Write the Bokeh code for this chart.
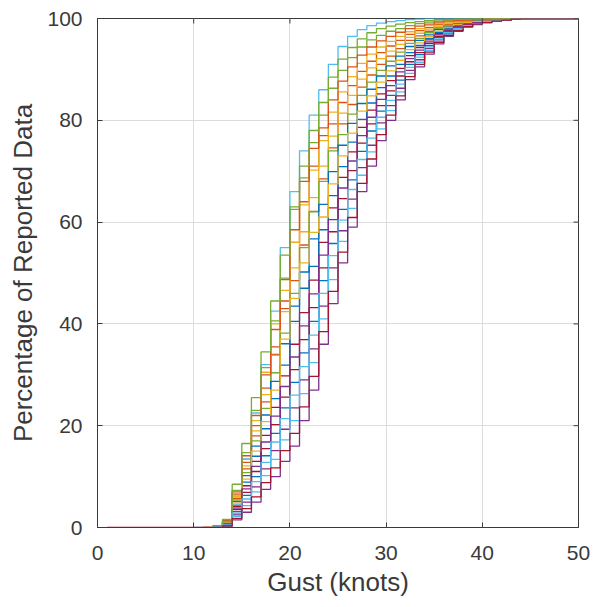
import math
from bokeh.plotting import figure
from bokeh.models import Range1d, FixedTicker
from bokeh.embed import file_html
from bokeh.resources import INLINE

# Gust values (knots) at which the cumulative percentages are reported
gust_knots = [12, 13, 14, 15, 16, 17, 18, 19, 20, 21, 22, 23, 24, 25, 26, 27, 28,
              29, 30, 31, 32, 33, 34, 35, 36, 37, 38, 39, 40, 41, 42, 43, 44]

# cumulative percentage of reported data, one list per station (plot order)
s01 = [0.1, 0.5, 3.1, 6.3, 10.0, 14.1, 18.5, 23.5, 28.5, 34.3, 40.5, 48.5, 55.8, 62.5, 68.3, 73.9, 77.9, 81.8, 84.9, 87.9, 91.0, 92.9, 94.7, 96.3, 97.4, 98.1, 98.7, 99.1, 99.4, 99.6, 99.8, 99.9, 100]
s02 = [0.2, 1.2, 6.4, 12.8, 20.0, 27.4, 35.5, 44.5, 56.0, 64.0, 71.0, 77.0, 79.3, 83.5, 86.8, 89.6, 91.6, 93.3, 94.6, 95.7, 96.9, 97.6, 98.2, 98.8, 99.1, 99.4, 99.6, 99.7, 99.8, 99.9, 99.9, 100, 100]
s03 = [0.2, 1.2, 6.7, 13.4, 21.0, 30.5, 40.0, 46.6, 56.0, 63.4, 70.2, 76.0, 81.6, 85.6, 88.6, 91.2, 93.0, 94.4, 95.5, 96.5, 97.4, 98.0, 98.6, 99.0, 99.3, 99.5, 99.7, 99.8, 99.8, 99.9, 100, 100, 100]
s04 = [0.0, 0.2, 1.5, 3.0, 5.0, 7.5, 10.0, 13.0, 16.0, 21.0, 27.0, 36.0, 44.0, 52.0, 59.0, 66.0, 71.0, 76.0, 80.0, 84.0, 88.0, 90.5, 93.0, 95.0, 96.5, 97.5, 98.3, 98.8, 99.2, 99.5, 99.7, 99.85, 100]
s05 = [0.2, 1.4, 7.3, 14.7, 23.0, 31.4, 40.6, 49.0, 62.5, 68.7, 75.6, 81.0, 86.3, 89.8, 92.3, 94.4, 95.8, 96.7, 97.5, 98.0, 98.6, 99.0, 99.3, 99.5, 99.7, 99.8, 99.8, 99.9, 99.9, 100, 100, 100, 100]
s06 = [0.2, 1.2, 6.0, 13.5, 22.5, 32.0, 42.5, 55.0, 66.0, 74.0, 81.0, 86.0, 91.0, 94.5, 96.5, 97.8, 98.6, 99.1, 99.4, 99.6, 99.8, 99.9, 100, 100, 100, 100, 100, 100, 100, 100, 100, 100, 100]
s07 = [0.1, 0.7, 4.1, 8.2, 13.0, 18.1, 23.6, 29.8, 36.0, 42.2, 48.6, 56.0, 62.8, 68.8, 73.8, 78.6, 82.0, 85.2, 87.8, 90.2, 92.7, 94.3, 95.8, 97.0, 97.9, 98.5, 99.0, 99.3, 99.5, 99.7, 99.8, 99.9, 100]
s08 = [0.1, 0.8, 4.4, 8.9, 14.0, 19.4, 25.3, 31.9, 40.5, 47.0, 51.3, 58.5, 65.2, 70.9, 75.7, 80.2, 83.4, 86.4, 88.7, 91.0, 93.3, 94.7, 96.1, 97.3, 98.1, 98.6, 99.1, 99.3, 99.6, 99.7, 99.8, 99.9, 100]
s09 = [0.2, 1.0, 5.7, 11.5, 18.0, 24.7, 34.0, 43.0, 48.5, 55.5, 62.1, 68.5, 74.6, 79.3, 83.1, 86.5, 88.9, 91.0, 92.6, 94.1, 95.7, 96.6, 97.5, 98.3, 98.8, 99.1, 99.4, 99.6, 99.7, 99.8, 99.9, 100, 100]
s10 = [0.2, 1.1, 6.1, 12.1, 19.0, 26.1, 33.8, 42.4, 51.0, 58.1, 64.8, 71.0, 76.9, 81.4, 84.9, 88.1, 90.3, 92.1, 93.6, 94.9, 96.3, 97.1, 97.9, 98.5, 99.0, 99.3, 99.5, 99.6, 99.8, 99.9, 99.9, 100, 100]
s11 = [0.0, 0.4, 2.5, 5.0, 8.0, 11.5, 15.1, 19.3, 23.5, 29.0, 35.1, 43.5, 51.0, 58.3, 64.5, 70.7, 75.1, 79.5, 82.9, 86.3, 89.8, 91.9, 94.1, 95.8, 97.0, 97.9, 98.6, 99.0, 99.3, 99.6, 99.7, 99.9, 100]
s12 = [0.2, 1.0, 5.4, 10.8, 17.0, 23.4, 30.4, 38.2, 46.0, 55.0, 62.0, 68.0, 74.0, 77.2, 81.2, 84.9, 87.5, 89.8, 91.6, 93.4, 95.1, 96.1, 97.2, 98.0, 98.6, 99.0, 99.3, 99.5, 99.7, 99.8, 99.9, 100, 100]
s13 = [0.0, 0.3, 2.2, 4.3, 7.0, 10.2, 13.4, 17.2, 21.0, 26.3, 32.4, 41.0, 48.7, 56.2, 62.7, 69.2, 73.8, 78.3, 81.9, 85.6, 89.2, 91.4, 93.7, 95.5, 96.9, 97.8, 98.5, 98.9, 99.3, 99.6, 99.7, 99.9, 100]
s14 = [0.1, 0.6, 3.5, 6.9, 11.0, 15.5, 20.2, 25.6, 31.0, 36.9, 43.2, 51.0, 58.1, 64.6, 70.1, 75.5, 79.3, 82.9, 85.8, 88.7, 91.5, 93.3, 95.1, 96.5, 97.6, 98.3, 98.8, 99.2, 99.4, 99.7, 99.8, 99.9, 100]
s15 = [0.2, 0.9, 5.1, 10.2, 16.0, 22.1, 28.7, 36.1, 43.5, 50.2, 56.7, 63.5, 69.9, 75.1, 79.4, 83.3, 86.1, 88.7, 90.7, 92.6, 94.5, 95.7, 96.8, 97.8, 98.4, 98.9, 99.2, 99.5, 99.6, 99.8, 99.9, 99.9, 100]
s16 = [0.3, 1.3, 7.0, 14.1, 22.0, 30.0, 38.9, 48.7, 58.5, 68.0, 74.5, 78.5, 84.0, 87.7, 90.5, 92.8, 94.4, 95.6, 96.5, 97.3, 98.0, 98.5, 98.9, 99.3, 99.5, 99.6, 99.7, 99.8, 99.9, 99.9, 100, 100, 100]
s17 = [0.1, 0.9, 4.8, 9.5, 15.0, 20.8, 27.0, 37.0, 45.0, 52.0, 58.0, 61.0, 67.5, 73.0, 77.5, 81.8, 84.8, 87.5, 89.7, 91.8, 93.9, 95.2, 96.5, 97.5, 98.3, 98.8, 99.2, 99.4, 99.6, 99.8, 99.9, 99.9, 100]
s18 = [0.1, 0.7, 3.8, 7.6, 12.0, 16.8, 21.9, 27.7, 33.5, 39.6, 45.9, 53.5, 60.5, 66.7, 72.0, 77.0, 80.6, 84.1, 86.8, 89.5, 92.1, 93.8, 95.4, 96.8, 97.7, 98.4, 98.9, 99.2, 99.5, 99.7, 99.8, 99.9, 100]
s19 = [0.3, 1.6, 8.5, 16.5, 25.5, 34.5, 44.5, 53.5, 63.0, 71.0, 78.0, 83.5, 88.5, 92.0, 94.3, 96.0, 97.2, 98.0, 98.5, 98.9, 99.2, 99.4, 99.6, 99.75, 99.8, 99.9, 99.9, 99.95, 100, 100, 100, 100, 100]
s20 = [0.1, 0.5, 2.8, 5.6, 9.0, 12.8, 16.8, 21.4, 26.0, 31.6, 37.8, 46.0, 53.4, 60.4, 66.4, 72.3, 76.5, 80.6, 83.9, 87.1, 90.4, 92.4, 94.4, 96.0, 97.2, 98.0, 98.6, 99.0, 99.4, 99.6, 99.8, 99.9, 100]
s21 = [0.0, 0.3, 1.8, 3.7, 6.0, 8.8, 11.7, 15.1, 18.5, 23.7, 29.7, 38.5, 46.4, 54.1, 60.9, 67.6, 72.4, 77.2, 81.0, 84.8, 88.6, 91.0, 93.4, 95.3, 96.7, 97.6, 98.4, 98.9, 99.2, 99.5, 99.7, 99.9, 100]

# lowest gust of each station's record (where its curve starts at 0 %)
series_start = [12, 11, 12, 12, 12, 10, 1, 12, 12, 12, 12, 12, 12, 12, 12, 11, 12, 12, 12, 12, 12]

series = [s01, s02, s03, s04, s05, s06, s07, s08, s09, s10, s11,
          s12, s13, s14, s15, s16, s17, s18, s19, s20, s21]

x_ticks = [0, 10, 20, 30, 40, 50]
y_ticks = [0, 20, 40, 60, 80, 100]
x_min, x_max = 0, 50
y_min, y_max = 0, 100

matlab_colors = ["#0072BD", "#D95319", "#EDB120", "#7E2F8E", "#77AC30", "#4DBEEE", "#A2142F"]

FONT = "Liberation Sans"
TXT = "#3a3a3a"
AX = "#3a3a3a"

p = figure(width=595, height=607, output_backend="svg", toolbar_location=None,
           x_range=Range1d(x_min, x_max), y_range=Range1d(y_min, y_max),
           min_border_left=97, min_border_right=17, min_border_top=18, min_border_bottom=80)

p.background_fill_color = "white"
p.border_fill_color = "white"
p.outline_line_color = AX
p.outline_line_width = 1

for i, vals in enumerate(series):
    xs = [series_start[i]] + gust_knots + [x_max]
    ys = [0] + vals + [vals[-1]]
    p.step(xs, ys, mode="after", line_color=matlab_colors[i % 7], line_width=1.3)

# mirrored inward ticks on the top and right edges of the box
p.scatter(x=x_ticks, y=[y_max] * len(x_ticks), marker="dash", size=10,
          angle=math.pi / 2, line_color=AX, line_width=1)
p.scatter(x=[x_max] * len(y_ticks), y=y_ticks, marker="dash", size=10,
          line_color=AX, line_width=1)

for ax in (p.xaxis[0], p.yaxis[0]):
    ax.axis_line_color = AX
    ax.major_tick_line_color = AX
    ax.major_tick_in = 5
    ax.major_tick_out = 0
    ax.minor_tick_line_color = None
    ax.major_label_text_font = FONT
    ax.major_label_text_font_size = "21px"
    ax.major_label_text_color = TXT
    ax.axis_label_text_font = FONT
    ax.axis_label_text_font_size = "26px"
    ax.axis_label_text_font_style = "normal"
    ax.axis_label_text_color = TXT

p.xaxis.ticker = FixedTicker(ticks=x_ticks)
p.yaxis.ticker = FixedTicker(ticks=y_ticks)
p.xaxis.axis_label = "Gust (knots)"
p.yaxis.axis_label = "Percentage of Reported Data"
p.xaxis.major_label_standoff = 18
p.yaxis.major_label_standoff = 15
p.xaxis.axis_label_standoff = 4
p.yaxis.axis_label_standoff = 6

p.xgrid.ticker = FixedTicker(ticks=x_ticks)
p.ygrid.ticker = FixedTicker(ticks=y_ticks)
p.grid.grid_line_color = "#dcdcdc"
p.grid.grid_line_width = 1

open("out.html", "w").write(file_html(p, INLINE))
